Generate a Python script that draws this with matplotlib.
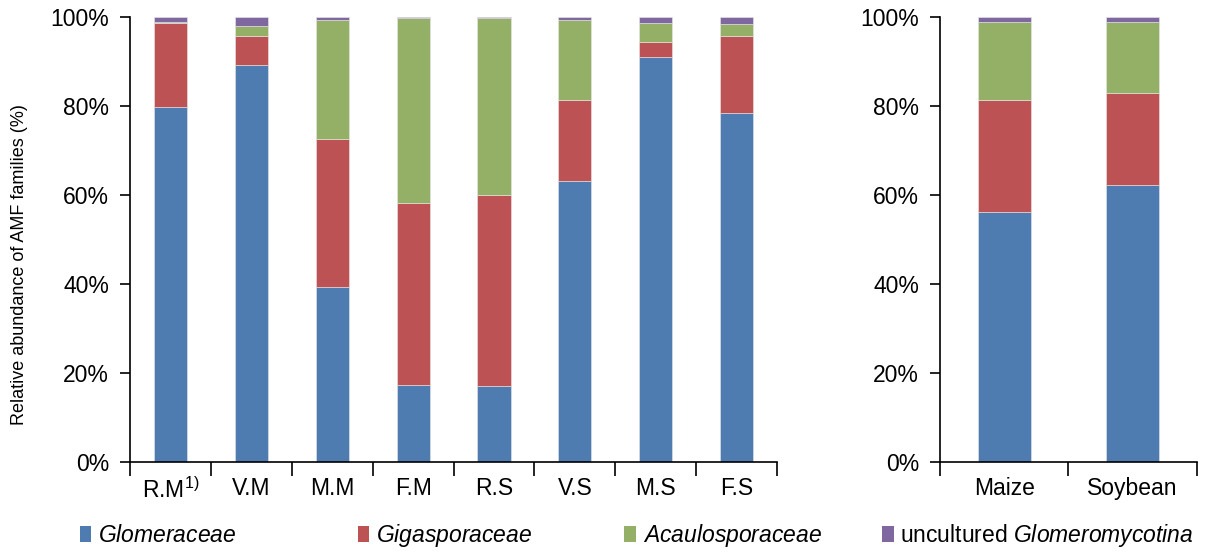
import numpy as np
import matplotlib
matplotlib.use("Agg")
import matplotlib.pyplot as plt
from matplotlib.patches import Patch

plt.rcParams['font.family'] = ['Liberation Sans', 'DejaVu Sans']
plt.rcParams['mathtext.fontset'] = 'custom'
plt.rcParams['mathtext.rm'] = 'Liberation Sans'
plt.rcParams['mathtext.it'] = 'Liberation Sans:italic'

# data (cumulative tops, converted to shares)
sites = ['R.M$^{\\mathregular{1)}}$', 'V.M', 'M.M', 'F.M', 'R.S', 'V.S', 'M.S', 'F.S']
glomeraceae = [79.8, 89.2, 39.3, 17.3, 17.1, 63.1, 91.0, 78.4]
gigasporaceae = [18.8, 6.6, 33.3, 40.9, 42.9, 18.2, 3.4, 17.4]
acaulosporaceae = [0.3, 2.2, 26.7, 41.6, 39.8, 18.0, 4.3, 2.7]
uncultured = [1.1, 2.0, 0.7, 0.2, 0.2, 0.7, 1.3, 1.5]

crops = ['Maize', 'Soybean']
glomeraceae_c = [56.2, 62.2]
gigasporaceae_c = [25.2, 20.7]
acaulosporaceae_c = [17.5, 16.0]
uncultured_c = [1.1, 1.1]

families = ['$\\mathit{Glomeraceae}$', '$\\mathit{Gigasporaceae}$',
            '$\\mathit{Acaulosporaceae}$', 'uncultured $\\mathit{Glomeromycotina}$']
colours = ['#4e7cb1', '#bc5254', '#93b066', '#7f68a0']

fig = plt.figure(figsize=(12.05, 5.54), dpi=100)
ax1 = fig.add_axes([0.1079, 0.166, 0.537, 0.803])
ax2 = fig.add_axes([0.780, 0.166, 0.2133, 0.803])


def stack(ax, labels, series):
    x = np.arange(len(labels))
    bottom = np.zeros(len(labels))
    for vals, c in zip(series, colours):
        ax.bar(x, vals, 0.41, bottom=bottom, color=c, edgecolor='#e8e8e8', linewidth=0.4)
        bottom = bottom + np.array(vals)
    ax.set_xlim(-0.5, len(labels) - 0.5)
    ax.set_ylim(0, 100)
    ax.set_xticks(np.arange(len(labels) + 1) - 0.5)
    ax.set_xticklabels([])
    ax.set_xticks(x, minor=True)
    ax.set_xticklabels(labels, minor=True, fontsize=16.5)
    ax.tick_params(axis='x', which='major', direction='out', length=10, width=1.2)
    ax.tick_params(axis='x', which='minor', length=0, pad=11)
    ax.set_yticks(range(0, 101, 20))
    ax.set_yticklabels(['%d%%' % v for v in range(0, 101, 20)], fontsize=16.5)
    ax.tick_params(axis='y', direction='out', length=7, width=1.2, pad=8)
    for s in ['top', 'right']:
        ax.spines[s].set_visible(False)
    for s in ['left', 'bottom']:
        ax.spines[s].set_linewidth(1.2)


stack(ax1, sites, [glomeraceae, gigasporaceae, acaulosporaceae, uncultured])
stack(ax2, crops, [glomeraceae_c, gigasporaceae_c, acaulosporaceae_c, uncultured_c])

ax1.set_ylabel('Relative abundance of AMF families (%)', fontsize=13)
ax1.yaxis.set_label_coords(-0.158, 0.445)

# legend entries, one per family, spread along the bottom
legend_x = [0.066, 0.297, 0.518, 0.732]
for fam, c, lx in zip(families, colours, legend_x):
    fig.legend([Patch(facecolor=c, edgecolor='none')], [fam], loc='center left',
               bbox_to_anchor=(lx, 0.034), frameon=False, fontsize=16.5,
               handlelength=0.5, handleheight=0.7, handletextpad=0.3,
               borderaxespad=0, borderpad=0)

plt.savefig('out.png', dpi=100)
